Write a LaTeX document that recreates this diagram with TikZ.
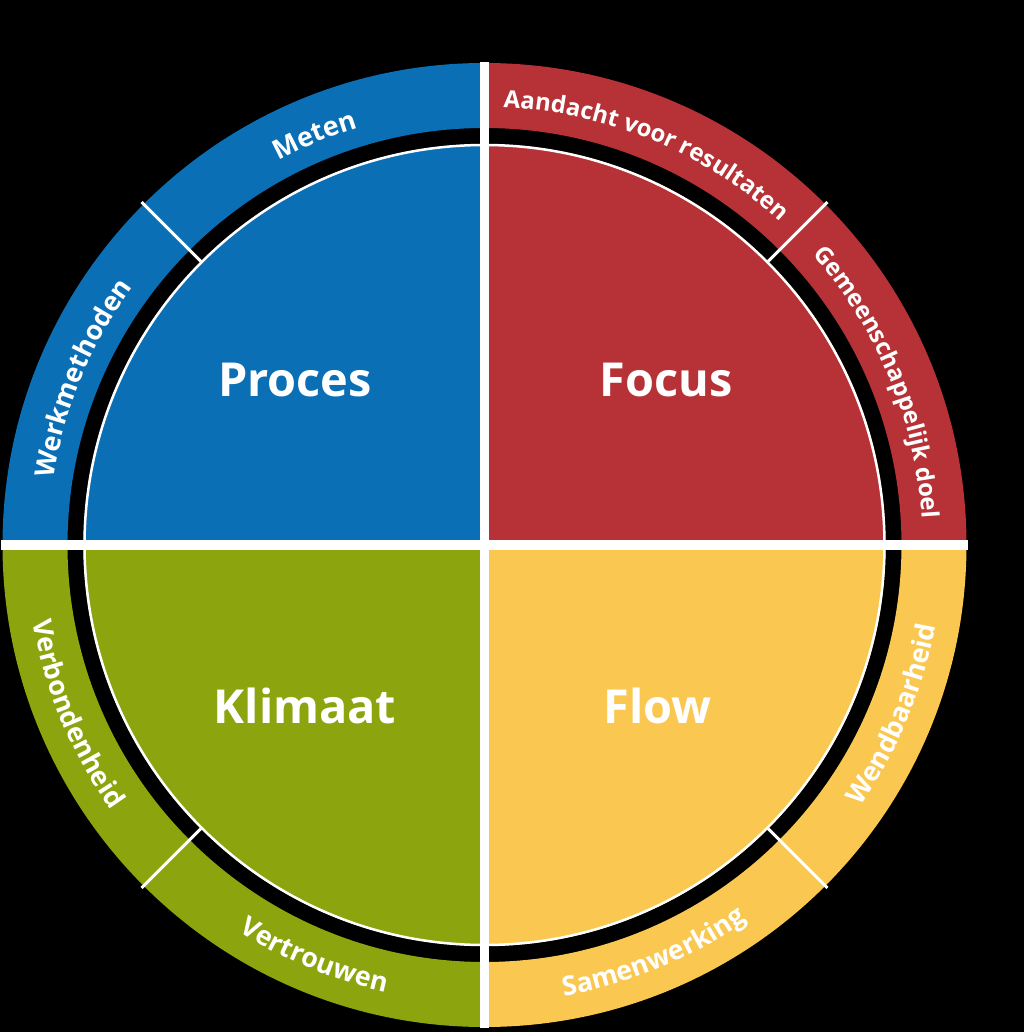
\documentclass[tikz,border=0pt]{standalone}
\usepackage{fontspec}
\setmainfont{Open Sans}
\usetikzlibrary{decorations.text}

\definecolor{procesblue}{RGB}{11,111,181}
\definecolor{focusred}{RGB}{182,50,54}
\definecolor{klimaatgreen}{RGB}{140,164,14}
\definecolor{flowyellow}{RGB}{250,200,80}

\newcommand\quadfont{\bfseries\fontsize{47}{47}\selectfont}
\newcommand\ringfont{\bfseries\fontsize{27}{27}\selectfont}
\newcommand\longringfont{\bfseries\fontsize{24}{24}\selectfont}

\begin{document}
\begin{tikzpicture}[x=1bp,y=1bp,
  quadlabel/.style={text=white,font=\quadfont,anchor=base,inner sep=0pt},
  ringlabel/.style={decorate,decoration={text along path,text color=white,
    text align=center,text={|\ringfont|#1}}},
  longringlabel/.style={decorate,decoration={text along path,text color=white,
    text align=center,text={|\longringfont|#1}}},
  divider/.style={white,line width=9.5bp},
  segline/.style={white,line width=3bp}]

\useasboundingbox (-484.5,-487) rectangle (539.5,545);
\fill[black] (-484.5,-487) rectangle (539.5,545);

% quadrants and outer ring
\foreach \a/\c in {0/focusred,90/procesblue,180/klimaatgreen,270/flowyellow}{
  \fill[\c] (0,0) -- (\a:401) arc[start angle=\a,end angle=\a+90,radius=401] -- cycle;
  \fill[\c] (\a:417) arc[start angle=\a,end angle=\a+90,radius=417]
    -- (\a+90:482) arc[start angle=\a+90,end angle=\a,radius=482] -- cycle;
}
\draw[white,line width=2.5bp] (0,0) circle[radius=400];
\foreach \a in {45,135,225,315}
  \draw[segline] (\a:401) -- (\a:485);
\draw[divider] (0,483) -- (0,-483);
\draw[divider] (-483,0) -- (483,0);

\node[quadlabel] (proces) at (-189.5,148) {Proces};
\node[quadlabel] (focus) at (181.5,148) {Focus};
\node[quadlabel] (klimaat) at (-179.5,-178) {Klimaat};
\node[quadlabel] (flow) at (173.5,-178) {Flow};

% ring texts
\path[ringlabel=Werkmethoden] (180:436) arc[start angle=180,end angle=135,radius=436];
\path[ringlabel=Meten] (135:436) arc[start angle=135,end angle=90,radius=436];
\path[longringlabel=Aandacht voor resultaten] (90:438) arc[start angle=90,end angle=45,radius=438];
\path[longringlabel=Gemeenschappelijk doel] (45:438) arc[start angle=45,end angle=0,radius=438];
\path[ringlabel=Verbondenheid] (180:458) arc[start angle=180,end angle=225,radius=458];
\path[ringlabel=Vertrouwen] (225:458) arc[start angle=225,end angle=270,radius=458];
\path[ringlabel=Samenwerking] (270:458) arc[start angle=270,end angle=315,radius=458];
\path[ringlabel=Wendbaarheid] (315:458) arc[start angle=315,end angle=360,radius=458];

\end{tikzpicture}
\end{document}
